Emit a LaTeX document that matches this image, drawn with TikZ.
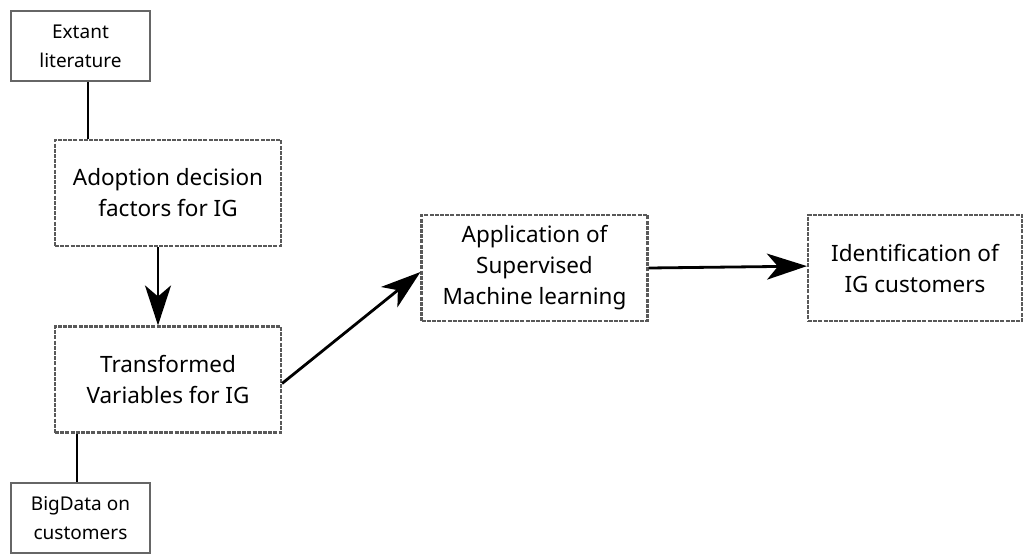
\documentclass[tikz,border=0pt]{standalone}
\usepackage{fontspec}
\setmainfont{Noto Sans}
\usetikzlibrary{arrows.meta}

\begin{document}
\begin{tikzpicture}[x=1pt, y=-1pt,
    srcbox/.style={draw=black!60, line width=2.6pt, minimum width=139pt, minimum height=70pt,
        inner sep=0pt, align=center, font=\fontsize{19}{29}\selectfont},
    stagebox/.style={draw=black!65, line width=2.1pt, dash pattern=on 4pt off 1.2pt,
        minimum width=226pt, minimum height=106pt, inner sep=0pt, align=center,
        font=\fontsize{22.5}{31}\selectfont},
    link/.style={line width=2.8pt},
    flow/.style={line width=2.8pt, -{Stealth[length=40pt, width=26pt, inset=11pt]}}]

    % Fix the page to the size of the reference
    \useasboundingbox (0,0) rectangle (1025,555);

    % 1. The two sources of input
    \node[srcbox] (lit) at (80.5,46) {Extant\\literature};
    \node[srcbox] (bigdata) at (80.5,518) {BigData on\\customers};

    % 2. The stages of the process
    \node[stagebox] (factors) at (168,193) {Adoption decision\\factors for IG};
    \node[stagebox] (vars) at (168,379.5) {Transformed\\Variables for IG};
    \node[stagebox] (ml) at (534.5,268) {Application of\\Supervised\\Machine learning};
    \node[stagebox, minimum width=214pt] (ident) at (915,268) {Identification of\\IG customers};

    % 3. Plain links from the sources
    \draw[link] (lit.south -| 88,0) -- (factors.north -| 88,0);
    \draw[link] (vars.south -| 77,0) -- (bigdata.north -| 77,0);

    % 4. Arrows between the stages
    \draw[flow] (factors.south -| 158,0) -- (vars.north -| 158,0);
    \draw[flow] (vars.-2.8) -- (ml.182.5);
    \draw[flow] (ml.east) -- (ident.179);

\end{tikzpicture}
\end{document}
